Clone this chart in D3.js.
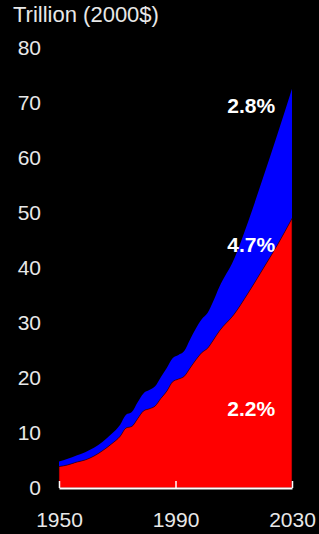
<!DOCTYPE html>
<html>
<head>
<meta charset="utf-8">
<script src="https://cdn.jsdelivr.net/npm/d3@7"></script>
<style>
  html, body { margin: 0; padding: 0; background: #000; }
  svg { display: block; }
</style>
</head>
<body>
<div id="wrapper"></div>
<script>
// Data (trillion 2000$)
const years = [1950, 1953, 1956, 1959, 1962, 1965, 1968, 1971, 1973, 1975, 1977, 1979, 1981, 1983, 1985,
  1987, 1989, 1991, 1993, 1995, 1997, 1999, 2001, 2003, 2005, 2010, 2015, 2020, 2025, 2030];
const redValues = [3.9, 4.2, 4.7, 5.1, 5.8, 6.8, 8.0, 9.4, 10.9, 11.2, 12.6, 14.0, 14.4, 14.9, 16.3,
  17.6, 19.3, 19.8, 20.3, 21.8, 23.3, 24.6, 25.4, 26.9, 28.5, 31.5, 35.5, 39.8, 44.2, 49.0];
const blueValues = [0.9, 1.1, 1.2, 1.4, 1.5, 1.6, 1.8, 2.1, 2.4, 2.6, 3.0, 3.2, 3.4, 3.6, 3.9,
  4.2, 4.3, 4.4, 4.6, 5.2, 5.7, 6.1, 6.4, 7.1, 8.0, 10.0, 13.0, 16.5, 20.1, 23.6];
const xTicks = [1950, 1990, 2030];
const yTicks = [0, 10, 20, 30, 40, 50, 60, 70, 80];
const growthLabels = [
  {text: "2.8%", year: 2016, value: 69.5},
  {text: "4.7%", year: 2016, value: 44.3},
  {text: "2.2%", year: 2016, value: 14.4},
];

const width = 319;
const height = 534;
const margin = {top: 48, right: 27, bottom: 46, left: 59};

const rows = years.map((year, i) => ({year, red: redValues[i], blue: blueValues[i]}));
const stacked = d3.stack().keys(["red", "blue"])(rows);

const svg = d3.select("#wrapper")
  .append("svg")
  .attr("width", width)
  .attr("height", height)
  .style("background", "#000")
  .style("font-family", "'Liberation Sans', Arial, sans-serif");

const xScale = d3.scaleLinear()
  .domain([1950, 2030])
  .range([margin.left, width - margin.right]);

const yScale = d3.scaleLinear()
  .domain([0, 80])
  .range([height - margin.bottom, margin.top]);

const area = d3.area()
  .x(d => xScale(d.data.year))
  .y0(d => yScale(d[0]))
  .y1(d => yScale(d[1]))
  .curve(d3.curveMonotoneX);

const colors = {red: "#ff0000", blue: "#0000ff"};

svg.append("g")
  .selectAll("path")
  .data(stacked.slice().reverse())
  .join("path")
  .attr("d", area)
  .attr("fill", d => colors[d.key])
  .attr("stroke", d => d.key === "red" ? "#200000" : "none")
  .attr("stroke-width", 0.6);

// x axis
const xAxis = svg.append("g")
  .attr("transform", `translate(0,${height - margin.bottom})`)
  .call(d3.axisBottom(xScale)
    .tickValues(xTicks)
    .tickFormat(d3.format("d"))
    .tickSizeInner(-7)
    .tickSizeOuter(0)
    .tickPadding(24));
xAxis.select(".domain").attr("stroke", "#fff").attr("stroke-width", 2);
xAxis.selectAll(".tick line").attr("stroke", "#fff").attr("stroke-width", 1.5);
xAxis.selectAll("text").attr("fill", "#e8e8e8").style("font-size", "21px").style("font-family", null);

// y axis labels
const yAxis = svg.append("g")
  .attr("transform", `translate(${margin.left},0)`)
  .call(d3.axisLeft(yScale).tickValues(yTicks).tickSize(0).tickPadding(18));
yAxis.select(".domain").remove();
yAxis.selectAll("text").attr("fill", "#e8e8e8").style("font-size", "21px").style("font-family", null);

// title
svg.append("text")
  .attr("x", 13)
  .attr("y", 22)
  .attr("fill", "#e8e8e8")
  .style("font-size", "22px")
  .text("Trillion (2000$)");

// growth rate labels
svg.append("g")
  .selectAll("text")
  .data(growthLabels)
  .join("text")
  .attr("x", d => xScale(d.year))
  .attr("y", d => yScale(d.value))
  .attr("dy", "0.35em")
  .attr("text-anchor", "middle")
  .attr("fill", "#fff")
  .style("font-size", "21px")
  .style("font-weight", "bold")
  .text(d => d.text);
</script>
</body>
</html>
